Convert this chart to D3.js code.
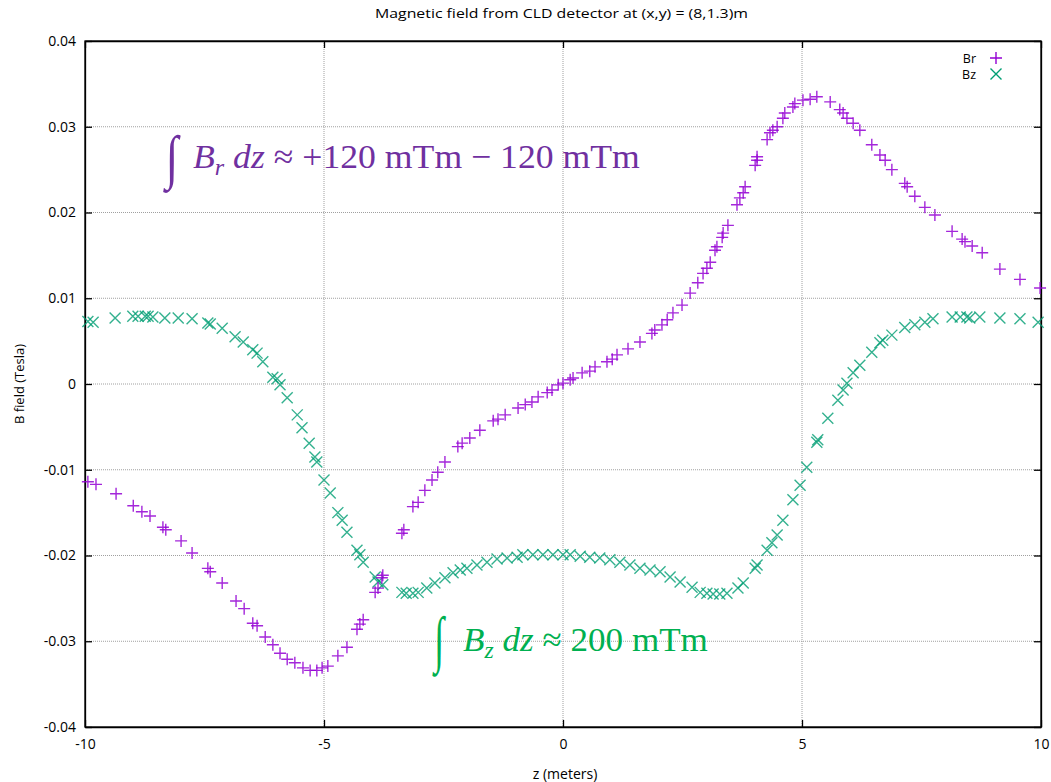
<!DOCTYPE html>
<html>
<head>
<meta charset="utf-8">
<script src="https://cdn.jsdelivr.net/npm/d3@7"></script>
<style>
  body { margin: 0; background: #fff; }
  svg text { font-family: "Open Sans", "Liberation Sans", Arial, sans-serif; }
</style>
</head>
<body>
<div id="chart"></div>
<script>
// ═══ B field along z, gnuplot-style scatter ═══

const titleText = 'Magnetic field from CLD detector at (x,y) = (8,1.3)m';
const xTicks = [-10, -5, 0, 5, 10];
const yTicks = [-0.04, -0.03, -0.02, -0.01, 0, 0.01, 0.02, 0.03, 0.04];

// Br samples (z in m, B in T)
const brZ = [-9.94, -9.77, -9.35, -8.99, -8.81, -8.64, -8.37, -8.31, -7.99, -7.76, -7.43, -7.38, -7.13, -6.84, -6.67,
  -6.49, -6.40, -6.23, -6.07, -5.92, -5.77, -5.61, -5.44, -5.29, -5.15, -5.04, -4.92, -4.71, -4.52, -4.31, -4.25, -4.18,
  -3.93, -3.87, -3.79, -3.77, -3.37, -3.33, -3.14, -3.03, -2.89, -2.74, -2.62, -2.47, -2.20, -2.11, -1.95, -1.74, -1.46,
  -1.36, -1.21, -0.94, -0.79, -0.65, -0.52, -0.33, -0.23, -0.10, 0.00, 0.15, 0.21, 0.40, 0.56, 0.67, 0.92, 1.03, 1.13,
  1.36, 1.61, 1.86, 1.92, 2.07, 2.18, 2.30, 2.49, 2.66, 2.82, 2.93, 3.01, 3.08, 3.18, 3.22, 3.33, 3.35, 3.45, 3.64, 3.70,
  3.77, 3.81, 4.02, 4.06, 4.06, 4.27, 4.33, 4.39, 4.48, 4.60, 4.64, 4.81, 4.85, 5.02, 5.17, 5.31, 5.59, 5.79, 5.86, 5.94,
  6.07, 6.21, 6.46, 6.63, 6.74, 6.88, 7.15, 7.20, 7.36, 7.57, 7.78, 8.14, 8.35, 8.41, 8.56, 8.77, 9.14, 9.56, 9.98];
const brB = [-0.0114, -0.0117, -0.0128, -0.0142, -0.0149, -0.0154, -0.0167, -0.0170, -0.0183, -0.0197, -0.0215, -0.0219,
  -0.0232, -0.0253, -0.0262, -0.0279, -0.0282, -0.0295, -0.0304, -0.0314, -0.0321, -0.0325, -0.0331, -0.0334, -0.0334,
  -0.0331, -0.0329, -0.0317, -0.0307, -0.0286, -0.0280, -0.0275, -0.0243, -0.0238, -0.0226, -0.0223, -0.0174, -0.0170,
  -0.0143, -0.0138, -0.0124, -0.0112, -0.0103, -0.0091, -0.0073, -0.0069, -0.0063, -0.0054, -0.0043, -0.0041, -0.0036,
  -0.0028, -0.0024, -0.0021, -0.0015, -0.0010, -0.0007, -0.0001, 0.0001, 0.0005, 0.0007, 0.0013, 0.0015, 0.0020, 0.0026,
  0.0029, 0.0034, 0.0041, 0.0049, 0.0059, 0.0063, 0.0069, 0.0075, 0.0083, 0.0092, 0.0106, 0.0118, 0.0129, 0.0135, 0.0142,
  0.0156, 0.0160, 0.0171, 0.0176, 0.0185, 0.0209, 0.0217, 0.0223, 0.0230, 0.0255, 0.0261, 0.0265, 0.0285, 0.0293, 0.0296,
  0.0300, 0.0310, 0.0316, 0.0323, 0.0327, 0.0331, 0.0332, 0.0335, 0.0329, 0.0320, 0.0316, 0.0310, 0.0304, 0.0296, 0.0279,
  0.0267, 0.0261, 0.0250, 0.0234, 0.0230, 0.0219, 0.0206, 0.0197, 0.0178, 0.0169, 0.0166, 0.0161, 0.0153, 0.0134, 0.0122,
  0.0112];

// Bz samples
const bzZ = [-9.94, -9.83, -9.37, -9.00, -8.89, -8.74, -8.68, -8.58, -8.33, -8.05, -7.76, -7.43, -7.38, -7.13, -6.86,
  -6.69, -6.49, -6.40, -6.28, -6.07, -5.98, -5.92, -5.77, -5.56, -5.46, -5.31, -5.19, -5.15, -5.00, -4.87, -4.71, -4.62,
  -4.52, -4.31, -4.25, -4.18, -3.93, -3.87, -3.77, -3.37, -3.28, -3.14, -3.03, -2.85, -2.68, -2.47, -2.30, -2.15, -2.01,
  -1.80, -1.59, -1.38, -1.17, -0.96, -0.84, -0.63, -0.42, -0.21, 0.00, 0.15, 0.36, 0.56, 0.77, 0.98, 1.19, 1.40, 1.61,
  1.82, 2.03, 2.24, 2.45, 2.70, 2.87, 3.01, 3.14, 3.28, 3.43, 3.66, 3.77, 4.02, 4.06, 4.27, 4.37, 4.48, 4.60, 4.81, 4.96,
  5.10, 5.31, 5.33, 5.54, 5.75, 5.86, 5.94, 6.07, 6.21, 6.46, 6.63, 6.69, 6.88, 7.15, 7.36, 7.57, 7.74, 8.14, 8.31, 8.45,
  8.51, 8.72, 9.14, 9.56, 9.94];
const bzB = [0.0073, 0.0072, 0.0077, 0.0079, 0.0079, 0.0079, 0.0079, 0.0078, 0.0077, 0.0077, 0.0076, 0.0071, 0.0070,
  0.0065, 0.0055, 0.0049, 0.0040, 0.0036, 0.0026, 0.0008, 0.0006, -0.0001, -0.0016, -0.0036, -0.0051, -0.0069, -0.0085,
  -0.0091, -0.0112, -0.0127, -0.0150, -0.0159, -0.0173, -0.0194, -0.0199, -0.0208, -0.0225, -0.0231, -0.0234, -0.0243,
  -0.0244, -0.0244, -0.0243, -0.0238, -0.0232, -0.0226, -0.0220, -0.0217, -0.0215, -0.0211, -0.0208, -0.0204, -0.0203,
  -0.0202, -0.0199, -0.0199, -0.0199, -0.0199, -0.0199, -0.0199, -0.0201, -0.0202, -0.0203, -0.0205, -0.0208, -0.0211,
  -0.0215, -0.0217, -0.0219, -0.0225, -0.0231, -0.0237, -0.0243, -0.0244, -0.0245, -0.0245, -0.0244, -0.0238, -0.0232,
  -0.0215, -0.0211, -0.0194, -0.0185, -0.0176, -0.0159, -0.0135, -0.0118, -0.0097, -0.0068, -0.0065, -0.0040, -0.0019,
  -0.0007, 0.0001, 0.0013, 0.0022, 0.0037, 0.0048, 0.0051, 0.0057, 0.0066, 0.0069, 0.0072, 0.0076, 0.0078, 0.0078,
  0.0078, 0.0077, 0.0078, 0.0077, 0.0076, 0.0072];

const BR_COLOR = '#9400d3';
const BZ_COLOR = '#009e73';
const PLUS = 'M-6,0H6M0,-6V6';
const CROSS = 'M-5.5,-5.5L5.5,5.5M-5.5,5.5L5.5,-5.5';

const W = 1051, H = 782;
const M = { left: 85, right: 1041, top: 41, bottom: 727 };

const svg = d3.select('#chart').append('svg')
  .attr('width', W).attr('height', H)
  .style('background', '#fff');

const x = d3.scaleLinear().domain([-10, 10]).range([M.left, M.right]);
const y = d3.scaleLinear().domain([-0.04, 0.04]).range([M.bottom, M.top]);

// Grid — dotted gray
const grid = svg.append('g');
grid.selectAll('line.gx').data(xTicks.slice(1, -1)).join('line')
  .attr('x1', d => x(d)).attr('x2', d => x(d))
  .attr('y1', M.top).attr('y2', M.bottom)
  .attr('stroke', '#a0a0a0').attr('stroke-width', 1).attr('stroke-dasharray', '1,1');
grid.selectAll('line.gy').data(yTicks.slice(1, -1)).join('line')
  .attr('x1', M.left).attr('x2', M.right)
  .attr('y1', d => y(d)).attr('y2', d => y(d))
  .attr('stroke', '#a0a0a0').attr('stroke-width', 1).attr('stroke-dasharray', '1,1');

// Axes (ticks point inward on all four sides)
const fmtY = d => d === 0 ? '0' : d3.format('.2f')(d).replace('−', '-');
svg.append('g').attr('transform', `translate(${M.left},0)`)
  .call(d3.axisLeft(y).tickValues(yTicks).tickFormat(fmtY).tickSizeInner(-7).tickSizeOuter(0).tickPadding(9))
  .call(g => g.selectAll('text').attr('font-size', 14).attr('fill', '#000'));
svg.append('g').attr('transform', `translate(${M.right},0)`)
  .call(d3.axisRight(y).tickValues(yTicks).tickFormat('').tickSizeInner(-7).tickSizeOuter(0));
svg.append('g').attr('transform', `translate(0,${M.bottom})`)
  .call(d3.axisBottom(x).tickValues(xTicks).tickFormat(d => String(d)).tickSizeInner(-7).tickSizeOuter(0).tickPadding(12))
  .call(g => g.selectAll('text').attr('font-size', 14).attr('fill', '#000'));
svg.append('g').attr('transform', `translate(0,${M.top})`)
  .call(d3.axisTop(x).tickValues(xTicks).tickFormat('').tickSizeInner(-7).tickSizeOuter(0));
svg.selectAll('.domain').attr('stroke', '#000').attr('stroke-width', 1.3);
svg.selectAll('.tick line').attr('stroke', '#000').attr('stroke-width', 1.3);

// Frame
svg.append('rect')
  .attr('x', M.left).attr('y', M.top)
  .attr('width', M.right - M.left).attr('height', M.bottom - M.top)
  .attr('fill', 'none').attr('stroke', '#000').attr('stroke-width', 1.3);

// Titles
svg.append('text').attr('x', 375).attr('y', 18)
  .attr('font-size', 13.5).attr('textLength', 373).attr('lengthAdjust', 'spacingAndGlyphs')
  .text(titleText);
svg.append('text').attr('transform', 'translate(24,384) rotate(-90)').attr('text-anchor', 'middle')
  .attr('font-size', 13).text('B field (Tesla)');
svg.append('text').attr('x', 565).attr('y', 779).attr('text-anchor', 'middle')
  .attr('font-size', 14).text('z (meters)');

// Points
const brData = brZ.map((z, i) => ({ z, b: brB[i] }));
const bzData = bzZ.map((z, i) => ({ z, b: bzB[i] }));

svg.append('g').selectAll('path').data(bzData).join('path')
  .attr('transform', d => `translate(${x(d.z)},${y(d.b)})`)
  .attr('d', CROSS).attr('fill', 'none')
  .attr('stroke', BZ_COLOR).attr('stroke-width', 1.4).attr('stroke-opacity', 0.8);
svg.append('g').selectAll('path').data(brData).join('path')
  .attr('transform', d => `translate(${x(d.z)},${y(d.b)})`)
  .attr('d', PLUS).attr('fill', 'none')
  .attr('stroke', BR_COLOR).attr('stroke-width', 1.4).attr('stroke-opacity', 0.85);

// Legend
const legend = svg.append('g').attr('font-size', 12.5);
legend.append('text').attr('x', 976).attr('y', 63).attr('text-anchor', 'end').text('Br');
legend.append('path').attr('transform', 'translate(996,58)').attr('d', PLUS)
  .attr('stroke', BR_COLOR).attr('stroke-width', 1.4).attr('fill', 'none');
legend.append('text').attr('x', 976).attr('y', 79).attr('text-anchor', 'end').text('Bz');
legend.append('path').attr('transform', 'translate(996,74)').attr('d', CROSS)
  .attr('stroke', BZ_COLOR).attr('stroke-width', 1.4).attr('fill', 'none');

// Integral annotations: glyphs are drawn, then fitted to the box they occupy in the picture
const SERIF = '"Liberation Serif", "Times New Roman", serif';
function fitTo(sel, box, keepY) {
  const b = sel.node().getBBox();
  const sx = (box.x1 - box.x0) / b.width;
  const sy = keepY ? 1 : (box.y1 - box.y0) / b.height;
  const ty = keepY ? 0 : box.y0 - b.y * sy;
  sel.attr('transform', `translate(${box.x0 - b.x * sx},${ty}) scale(${sx},${sy})`);
}
function integral(sign, textBox, baseline, color, sub, rest) {
  const g = svg.append('g').attr('fill', color);
  const s = g.append('g');
  s.append('text').style('font-family', SERIF).attr('font-size', 100).text('∫');
  fitTo(s, sign);
  const tg = g.append('g');
  const t = tg.append('text').attr('y', baseline)
    .style('font-family', SERIF).attr('font-size', 34);
  t.append('tspan').attr('font-style', 'italic').text('B');
  t.append('tspan').attr('font-style', 'italic').attr('font-size', 23).attr('dy', 7).text(sub);
  t.append('tspan').attr('font-style', 'italic').attr('dy', -7).text(' dz');
  t.append('tspan').text(rest);
  fitTo(tg, textBox, true);
}
integral({ x0: 163, x1: 181, y0: 124, y1: 193 }, { x0: 193, x1: 640 }, 168, '#7030a0', 'r', ' ≈ +120 mTm  − 120 mTm');
integral({ x0: 432, x1: 446, y0: 605, y1: 677 }, { x0: 463, x1: 708 }, 651, '#00b050', 'z', ' ≈ 200 mTm');
</script>
</body>
</html>
